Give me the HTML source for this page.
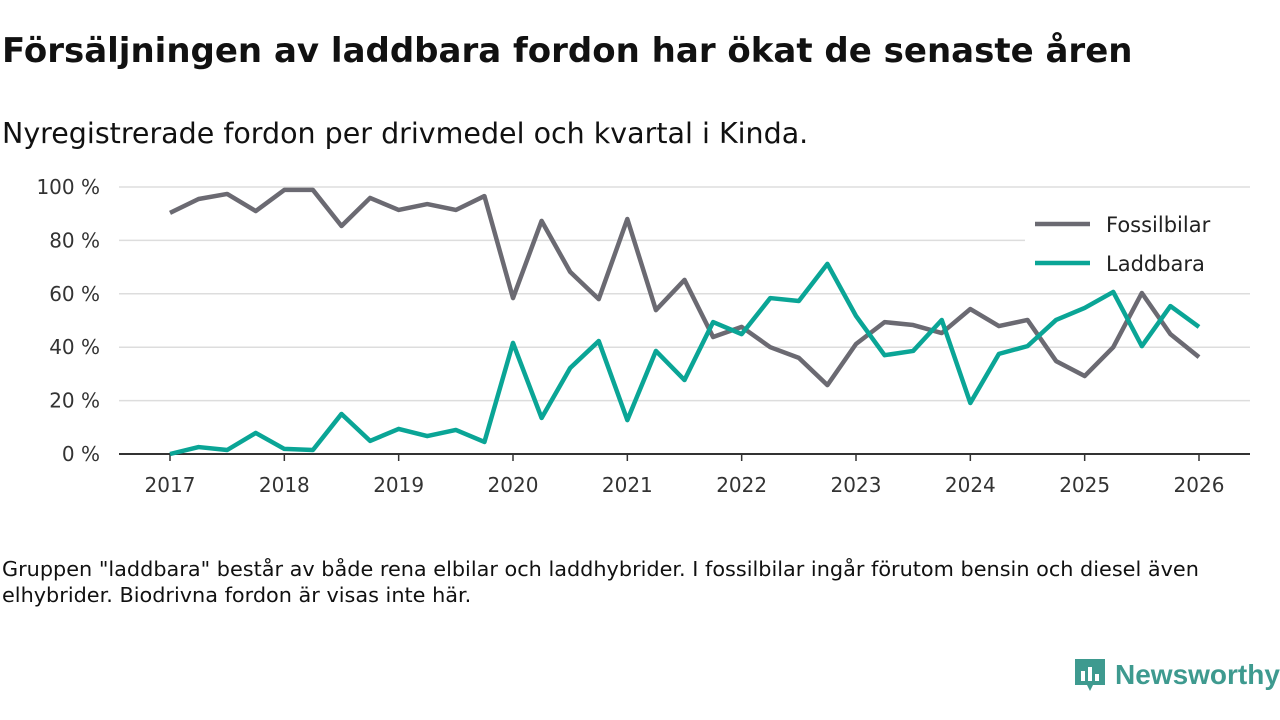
<!DOCTYPE html>
<html><head><meta charset="utf-8">
<style>
body{margin:0;width:1280px;height:720px;background:#fff;font-family:"DejaVu Sans","Liberation Sans",sans-serif;overflow:hidden;position:relative}
h1{position:absolute;left:2px;top:31px;margin:0;font-size:34px;font-weight:bold;color:#111;white-space:nowrap}
.sub{position:absolute;left:2px;top:117px;font-size:28.5px;color:#111;white-space:nowrap}
.note{position:absolute;left:2px;top:556px;font-size:20.8px;line-height:26px;color:#111;width:1240px}
.logo{position:absolute;left:1073px;top:657px;display:flex;align-items:center}
.logo span{font-family:"Liberation Sans",sans-serif;font-size:28px;font-weight:bold;color:#3e9a8f;margin-left:8px}
</style></head><body>
<h1>Försäljningen av laddbara fordon har ökat de senaste åren</h1>
<div class="sub">Nyregistrerade fordon per drivmedel och kvartal i Kinda.</div>
<svg id="chart" width="1280" height="520" style="position:absolute;left:0;top:0"></svg>
<div class="note">Gruppen "laddbara" består av både rena elbilar och laddhybrider. I fossilbilar ingår förutom bensin och diesel även elhybrider. Biodrivna fordon är visas inte här.</div>
<div class="logo">
<svg width="34" height="36" viewBox="0 0 34 36"><path d="M2 2h30v26H20l-3 6-3-6H2z" fill="#3e9a8f"/><rect x="8" y="14" width="4" height="10" fill="#fff"/><rect x="15" y="10" width="4" height="14" fill="#fff"/><rect x="22" y="17" width="4" height="7" fill="#fff"/></svg>
<span>Newsworthy</span></div>
<script>
const years=["2017","2018","2019","2020","2021","2022","2023","2024","2025","2026"];
const yTicks=[0,20,40,60,80,100];
const fossil=[90.3,95.5,97.4,91,98.9,98.9,85.4,95.9,91.4,93.6,91.4,96.6,58.4,87.3,68.2,58,88,53.9,65.2,43.8,47.6,40,36,25.8,41.2,49.4,48.3,45.3,54.3,47.9,50.2,34.8,29.2,40,60.3,44.9,36.3];
const laddbara=[0,2.6,1.5,7.9,1.9,1.5,15,4.9,9.4,6.7,9,4.5,41.6,13.5,32.2,42.3,12.7,38.6,27.7,49.4,44.9,58.4,57.3,71.2,51.7,37,38.6,50.2,19.1,37.5,40.4,50.2,54.7,60.7,40.4,55.4,47.6];
const svg=document.getElementById('chart');const NS='http://www.w3.org/2000/svg';
const x=i=>170+i*(1199-170)/36;
const y=v=>454-v*(454-187)/100;
function mk(t,a,txt){const e=document.createElementNS(NS,t);for(const k in a)e.setAttribute(k,a[k]);if(txt!=null)e.textContent=txt;svg.appendChild(e);return e;}
yTicks.forEach(v=>{
 if(v>0){const g=mk('line',{x1:119,x2:1250,y1:y(v),y2:y(v),stroke:'#ddd','stroke-width':1.5});
 
 }
 const t=mk('text',{x:100,y:y(v)+7,'text-anchor':'end','font-size':20,fill:'#333'},v+' %');
 
 
});
const ax=mk('line',{x1:119,x2:1250,y1:454,y2:454,stroke:'#333','stroke-width':2});


years.forEach((yr,k)=>{
 const xx=x(k*4);
 const tk=mk('line',{x1:xx,x2:xx,y1:454,y2:461,stroke:'#333','stroke-width':1.5});
 
 
 const t=mk('text',{x:xx,y:492,'text-anchor':'middle','font-size':20,fill:'#333'},yr);
 
 
});
function line(arr,col,name){const p=mk('polyline',{points:arr.map((v,i)=>x(i)+','+y(v)).join(' '),fill:'none',stroke:col,'stroke-width':4.5,'stroke-linejoin':'round'});
 
 }
line(fossil,'#6b6a72','fossilbilar-line');
line(laddbara,'#0aa596','laddbara-line');
const bg=mk('rect',{x:1025,y:205,width:225,height:80,fill:'#fff'});


[['Fossilbilar','#6b6a72',224],['Laddbara','#0aa596',263]].forEach(([n,c,yy])=>{
 const l=mk('line',{x1:1035,x2:1090,y1:yy,y2:yy,stroke:c,'stroke-width':4.5});
 
 
 const t=mk('text',{x:1106,y:yy+8,'font-size':21,fill:'#222'},n);
 
 
});
</script>
</body></html>
